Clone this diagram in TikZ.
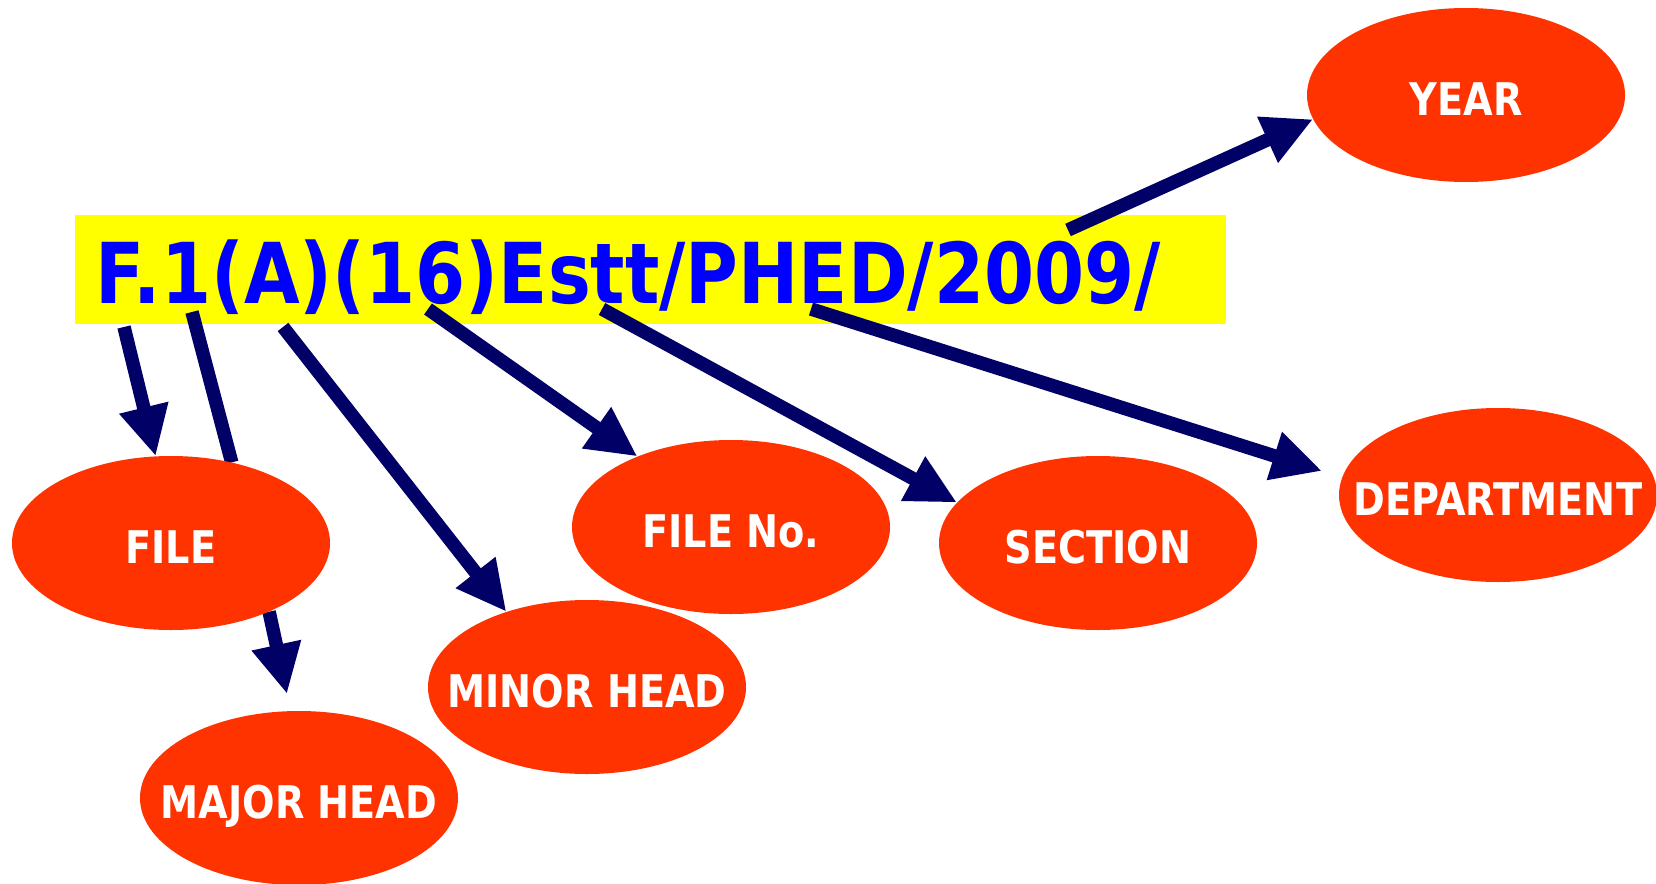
\documentclass[tikz,border=0pt]{standalone}
\usepackage{fontspec}
\usetikzlibrary{arrows.meta,calc,backgrounds,shapes.geometric}
\newfontfamily\codefont[FakeStretch=0.857]{DejaVu Sans}
\newfontfamily\ovalfont[FakeStretch=0.85]{DejaVu Sans}
\definecolor{ovalred}{HTML}{FF3300}
\definecolor{arrownavy}{HTML}{000066}
\definecolor{codeblue}{HTML}{0000FF}
\definecolor{codeyellow}{HTML}{FFFF00}
% label text sits a little below the middle of its oval
\newcommand{\ovaltext}[1]{\raisebox{-4pt}[33pt][0pt]{\makebox[0pt]{#1}}}

\begin{document}
\begin{tikzpicture}[x=1pt,y=-1pt,
  oval/.style={ellipse, fill=ovalred, minimum width=318pt, minimum height=174pt,
    inner sep=0pt, text=white, font=\ovalfont\bfseries\fontsize{45}{47}\selectfont},
  link/.style={draw=arrownavy, line width=13.5pt},
  pointer/.style={link, -{Triangle[length=50pt,width=47pt]}},
]
\useasboundingbox (0,0) rectangle (1656,883);

% file number on its yellow strip
\begin{scope}[on background layer]
  \fill[codeyellow] (75,215) rectangle (1226,324);
\end{scope}
\node[anchor=base west, inner sep=0pt, text=codeblue,
  font=\codefont\bfseries\fontsize{84}{84}\selectfont] (code) at (95,303)
  {F.1(A)(16)Estt/PHED/2009/};

% the parts of the number
\node[oval] (year)   at (1466,95)  {\ovaltext{YEAR}};
\node[oval] (file)   at (171,543)  {\ovaltext{FILE}};
\node[oval] (major)  at (299,798)  {\ovaltext{MAJOR HEAD}};
\node[oval] (minor)  at (587,687)  {\ovaltext{MINOR HEAD}};
\node[oval] (fileno) at (731,527)  {\ovaltext{FILE No.}};
\node[oval] (section) at (1098,543) {\ovaltext{SECTION}};
\node[oval] (dept)   at (1498,495) {\ovaltext{DEPARTMENT}};

% where each arrow leaves the number
\coordinate (fromF)    at (124,327);
\coordinate (fromOne)  at (192,312);
\coordinate (fromA)    at (283,327);
\coordinate (fromSix)  at (428,309);
\coordinate (fromEstt) at (602,309);
\coordinate (fromPHED) at (811,309);
\coordinate (fromYear) at (1068,230);
\coordinate (toDept)   at ($(dept.center)+(-176,-24)$);
\coordinate (toMajor)  at ($(major.center)+(-12,-104)$);

\begin{scope}[on background layer]
  \draw[pointer] (fromF) -- (file.100);
  \draw[link]    (fromOne) -- (file.53.5);
  \draw[pointer] (fromA) -- (minor.137.6);
  \draw[pointer] (fromSix) -- (fileno.143);
  \draw[pointer] (fromEstt) -- (section.164.5);
  \draw[pointer] (fromPHED) -- (toDept);
  \draw[pointer] (fromYear) -- (year.189);
  \draw[pointer] (file.-35.8) -- (toMajor);
\end{scope}
\end{tikzpicture}
\end{document}
